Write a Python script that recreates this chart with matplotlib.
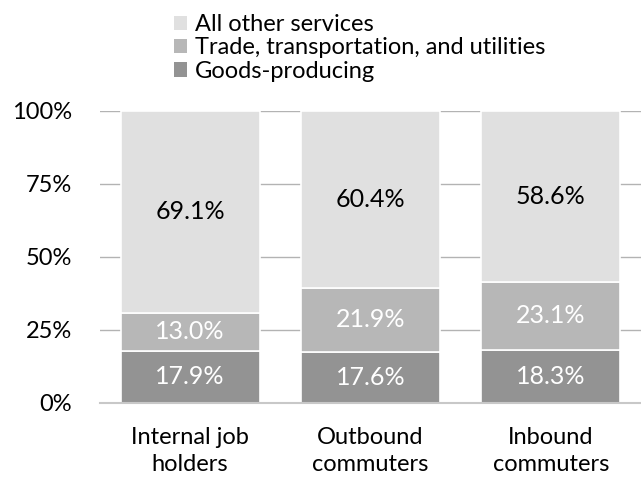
import matplotlib
matplotlib.use('Agg')
import matplotlib.pyplot as plt
from matplotlib.patches import Patch

# Data ====================================================
groups = ['Internal job\nholders', 'Outbound\ncommuters', 'Inbound\ncommuters']
goods = [17.9, 17.6, 18.3]
trade = [13.0, 21.9, 23.1]
other = [69.1, 60.4, 58.6]
series_names = ['Goods-producing', 'Trade, transportation, and utilities', 'All other services']
colors = ['#939393', '#b7b7b7', '#e0e0e0']
label_colors = ['white', 'white', 'black']
yticks = [0, 25, 50, 75, 100]

plt.rcParams['font.family'] = ['Lato', 'DejaVu Sans']

fig = plt.figure(figsize=(6.41, 4.79), dpi=100)
ax = fig.add_axes([0.156, 0.1587, 0.844, 0.6096])

x = list(range(len(groups)))
bottom = [0, 0, 0]
for vals, name, c, lc in zip([goods, trade, other], series_names, colors, label_colors):
    ax.bar(x, vals, width=0.77, bottom=bottom, color=c, edgecolor='white',
           linewidth=1.2, label=name, zorder=3)
    for xi, b, v in zip(x, bottom, vals):
        ax.text(xi, b + v / 2, f'{v:.1f}%', ha='center', va='center',
                color=lc, fontsize=18, zorder=4)
    bottom = [b + v for b, v in zip(bottom, vals)]

# Axes formatting
ax.set_xlim(-0.5, 2.5)
ax.set_ylim(0, 100)
ax.set_yticks(yticks)
ax.set_yticklabels([f'{t}%' for t in yticks], fontsize=17)
ax.set_xticks(x)
ax.set_xticklabels(groups, fontsize=17, linespacing=1.4)
ax.tick_params(axis='both', length=0)
ax.tick_params(axis='y', pad=20)
ax.tick_params(axis='x', pad=17)
ax.yaxis.grid(True, color='#b3b3b3', linewidth=1.0, zorder=0)
ax.set_axisbelow(True)
for s in ['left', 'right', 'top']:
    ax.spines[s].set_visible(False)
ax.spines['bottom'].set_color('#c8c8c8')
ax.spines['bottom'].set_linewidth(1.5)
ax.spines['bottom'].set_zorder(5)

# Legend (reverse order, square markers)
handles = [Patch(facecolor=c, edgecolor='none') for c in colors][::-1]
fig.legend(handles, series_names[::-1], loc='upper left',
           bbox_to_anchor=(0.245, 1.005), frameon=False, fontsize=17,
           handlelength=0.55, handleheight=0.55, handletextpad=0.35,
           labelspacing=0.1, borderpad=0.2)

fig.savefig('out.png', dpi=100)
